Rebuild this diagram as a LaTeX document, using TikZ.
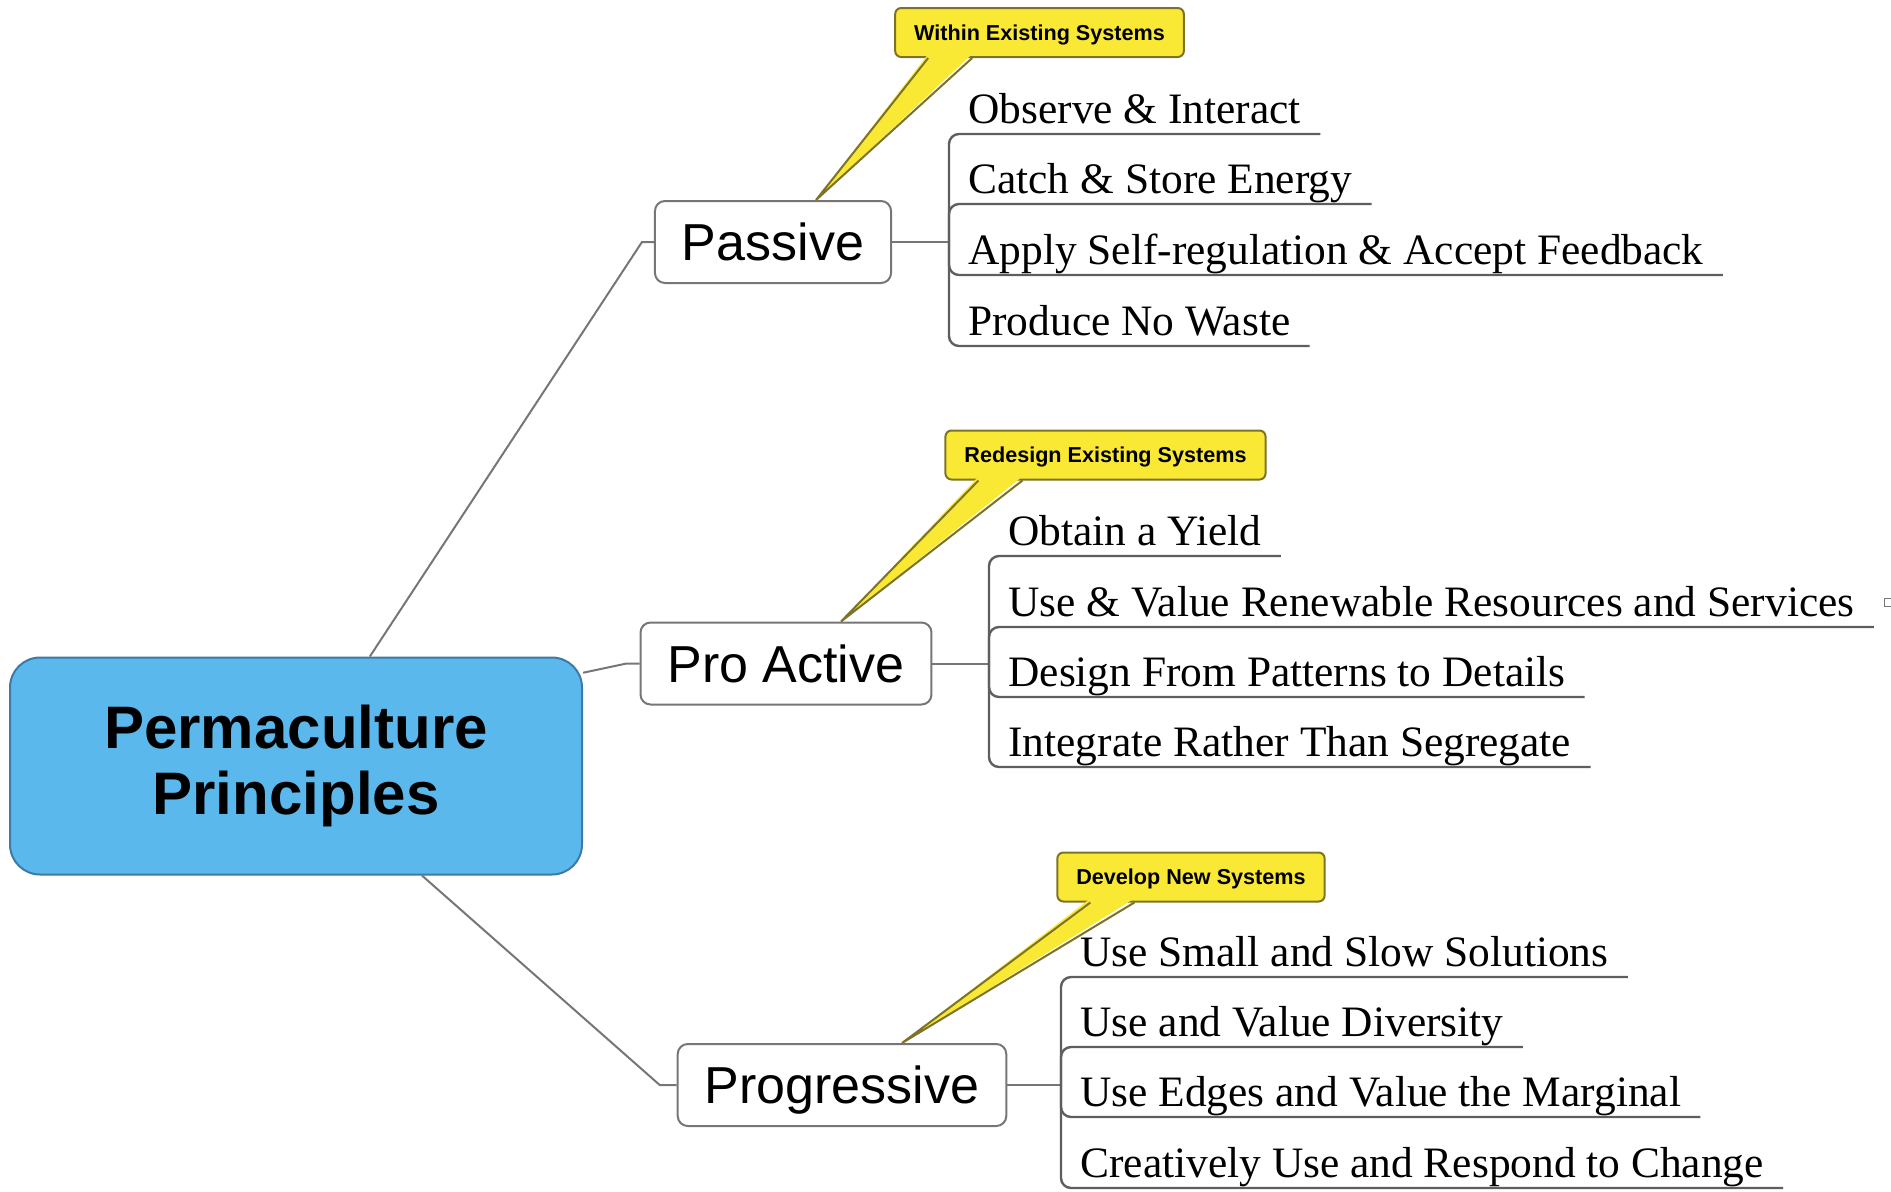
\documentclass[tikz,border=0pt]{standalone}
\usepackage{fontspec}
\setmainfont{Liberation Serif}
\setsansfont{Liberation Sans}
\usetikzlibrary{calc}
\definecolor{rootblue}{RGB}{91,184,236}
\definecolor{rootedge}{RGB}{62,122,165}
\definecolor{noteyellow}{RGB}{250,233,52}
\definecolor{noteedge}{RGB}{125,115,40}
\definecolor{linegray}{RGB}{118,118,118}
\tikzstyle{rootnode} = [draw=rootedge,line width=1pt,fill=rootblue,rounded corners=15pt,minimum width=286pt,minimum height=108.5pt,align=center,font=\sffamily\bfseries\fontsize{30}{33}\selectfont]
\tikzstyle{mainnode} = [draw=linegray,line width=1pt,fill=white,rounded corners=5pt,minimum height=41pt,inner xsep=13.5pt,text height=18.6pt,text depth=0pt,font=\sffamily\fontsize{26}{30}\selectfont]
\tikzstyle{leafnode} = [anchor=south west,inner xsep=9.5pt,inner ysep=5pt,text depth=0pt,font=\fontsize{21.7}{26}\selectfont]
\tikzstyle{notenode} = [draw=noteedge,line width=1pt,fill=noteyellow,rounded corners=3pt,minimum height=24.5pt,inner xsep=9.5pt,text height=7.7pt,text depth=0pt,font=\sffamily\bfseries\fontsize{10.8}{12}\selectfont]
\tikzstyle{branch} = [draw=linegray,line width=1pt]
\tikzstyle{leafline} = [draw=linegray!80!black,line width=1.2pt,rounded corners=5pt]

\begin{document}
\begin{tikzpicture}[x=0.5pt,y=-0.5pt]
	\useasboundingbox (0,0) rectangle (1891,1191);
	
	%% nodes
	\node[rootnode] (root) at (296,766) {Permaculture\\Principles};
	\node[mainnode] (pas) at (773,242) {Passive};
	\node[mainnode] (pro) at (786,663.5) {Pro Active};
	\node[mainnode] (prog) at (842,1085) {Progressive};
	
	\node[notenode] (npas) at (1039.5,32.5) {Within Existing Systems};
	\node[notenode] (npro) at (1105.5,455) {Redesign Existing Systems};
	\node[notenode] (nprog) at (1191,877) {Develop New Systems};
	
	\node[leafnode] (p1) at (949,134) {Observe \& Interact};
	\node[leafnode] (p2) at (949,204) {Catch \& Store Energy};
	\node[leafnode] (p3) at (949,275) {Apply Self-regulation \& Accept Feedback};
	\node[leafnode] (p4) at (949,346) {Produce No Waste};
	
	\node[leafnode] (a1) at (989,556) {Obtain a Yield};
	\node[leafnode] (a2) at (989,627) {Use \& Value Renewable Resources and Services};
	\node[leafnode] (a3) at (989,697) {Design From Patterns to Details};
	\node[leafnode] (a4) at (989,767) {Integrate Rather Than Segregate};
	
	\node[leafnode] (g1) at (1061,977) {Use Small and Slow Solutions};
	\node[leafnode] (g2) at (1061,1047) {Use and Value Diversity};
	\node[leafnode] (g3) at (1061,1117) {Use Edges and Value the Marginal};
	\node[leafnode] (g4) at (1061,1188) {Creatively Use and Respond to Change};
	
	\coordinate (jpas) at (949,242); \coordinate (jpro) at (989,663.5); \coordinate (jprog) at (1061,1085);
	
	%% edges
	\draw[branch] (root.56) -- ([xshift=-6pt]pas.west) -- (pas.west);
	\draw[branch] (root.18) -- ([xshift=-6.5pt]pro.west) -- (pro.west);
	\draw[branch] (root.-41) -- ([xshift=-8.5pt]prog.west) -- (prog.west);
	
	\draw[branch] (pas.east) -- (jpas); \draw[branch] (pro.east) -- (jpro); \draw[branch] (prog.east) -- (jprog);
	\foreach \i in {1,...,4}{%
		\draw[leafline] (jpas) |- (p\i.south east);
		\draw[leafline] (jpro) |- (a\i.south east);
		\draw[leafline] (jprog) |- (g\i.south east);
	}
	
	%% callout pointers
	\foreach \n/\b/\t in {npas/pas/21.5pt, npro/pro/27.5pt, nprog/prog/30pt}{%
		\fill[noteyellow] ([shift={(17pt,2pt)}]\n.south west) -- ([xshift=\t]\b.north) -- ([shift={(39pt,2pt)}]\n.south west) -- cycle;
		\draw[noteedge,line width=1pt] ([xshift=17pt]\n.south west) -- ([xshift=\t]\b.north) -- ([xshift=39pt]\n.south west);
	}
	\draw[linegray] (1884,598) rectangle (1892,606);
\end{tikzpicture}
\end{document}
